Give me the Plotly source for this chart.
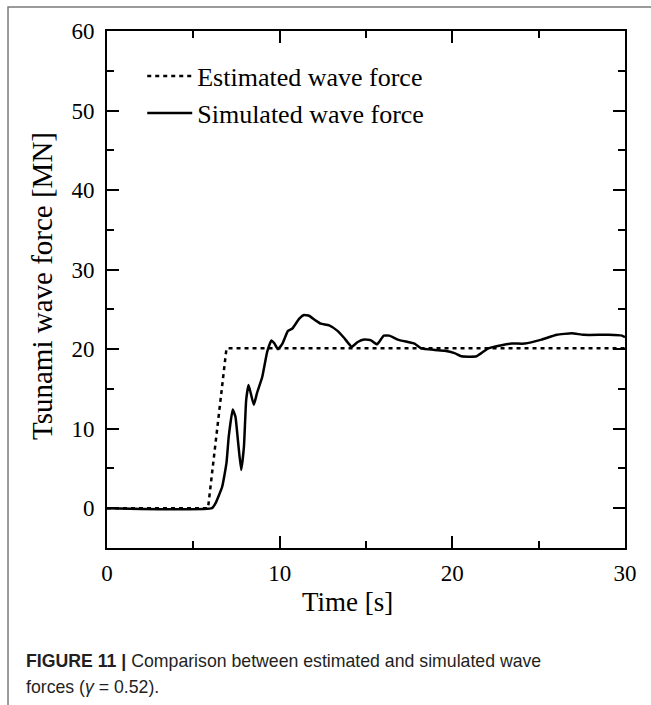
import plotly.graph_objects as go

# ---- data ----
est_t = [0, 5.85, 6.92, 30]
est_f = [0, 0, 20.1, 20.1]

sim_t = [0, 6.08, 6.28, 6.67, 6.92, 7.05, 7.28, 7.44, 7.58, 7.77, 7.93, 8.06, 8.2,
         8.5, 8.69, 8.99, 9.28, 9.52, 9.70, 9.90, 10.16, 10.48, 10.74, 11.12, 11.41,
         11.70, 12.09, 12.38, 12.87, 13.35, 13.74, 14.17, 14.52, 14.90, 15.29, 15.64,
         16.03, 16.35, 16.84, 17.42, 17.81, 18.20, 18.97, 19.55, 20.13, 20.52, 21.40,
         22.08, 22.85, 23.44, 24.2, 25.17, 26.05, 26.92, 27.60, 29.05, 29.83, 30.0]
sim_f = [0, 0, 0.6, 2.7, 5.7, 9.0, 12.4, 11.5, 8.6, 4.8, 7.7, 13.6, 15.5,
         13.0, 14.5, 16.5, 19.7, 21.1, 20.7, 20.0, 20.7, 22.3, 22.6, 23.8, 24.3,
         24.2, 23.6, 23.2, 23.0, 22.3, 21.4, 20.3, 20.9, 21.2, 21.1, 20.6,
         21.7, 21.7, 21.2, 20.9, 20.7, 20.1, 19.9, 19.8, 19.5, 19.1, 19.1,
         20.1, 20.5, 20.7, 20.7, 21.2, 21.8, 22.0, 21.8, 21.8, 21.7, 21.5]

x_ticks = [0, 10, 20, 30]
y_ticks = [0, 10, 20, 30, 40, 50, 60]

SERIF = "Liberation Serif, Times New Roman, serif"
SANS = "Liberation Sans, Arial, sans-serif"

fig = go.Figure()
fig.add_trace(go.Scatter(x=est_t, y=est_f, mode="lines", name="Estimated wave force",
                         line=dict(color="black", width=2.5, dash="4px,4px")))
fig.add_trace(go.Scatter(x=sim_t, y=sim_f, mode="lines", name="Simulated wave force",
                         line=dict(color="black", width=2.5, shape="spline", smoothing=0.4)))

axis_common = dict(showline=True, linecolor="black", linewidth=2, mirror="ticks",
                   ticks="inside", ticklen=12, tickwidth=2, tickcolor="black",
                   showgrid=False, zeroline=False,
                   tickfont=dict(family=SERIF, size=23, color="black"))

fig.update_xaxes(range=[0, 30], tickvals=x_ticks, ticklabelstandoff=3,
                 minor=dict(ticks="inside", ticklen=7, tickwidth=2, dtick=5,
                            tickcolor="black", showgrid=False),
                 **axis_common)
fig.update_yaxes(range=[-5, 60], tickvals=y_ticks, ticklabelstandoff=6,
                 minor=dict(ticks="inside", ticklen=7, tickwidth=2, dtick=5, tick0=5,
                            tickcolor="black", showgrid=False),
                 **axis_common)

fig.update_layout(
    width=651, height=705,
    margin=dict(l=107, r=26, t=31, b=157),
    paper_bgcolor="white", plot_bgcolor="white",
    showlegend=True,
    legend=dict(x=0.068, y=0.958, xanchor="left", yanchor="top",
                bgcolor="rgba(0,0,0,0)", borderwidth=0,
                font=dict(family=SERIF, size=26, color="black"),
                itemwidth=45, tracegroupgap=0),
    shapes=[
        dict(type="path", xref="paper", yref="paper",
             path="M -0.1911,-0.31 L -0.1911,1.0464 L 1.06,1.0464",
             line=dict(color="#7a7a7a", width=1.5)),
    ],
    annotations=[
        dict(text="Time [s]", xref="paper", yref="paper",
             x=(347 - 107) / 518, y=(548 - 602) / 517,
             xanchor="center", yanchor="middle", showarrow=False,
             font=dict(family=SERIF, size=27, color="black")),
        dict(text="Tsunami wave force [MN]", xref="paper", yref="paper",
             x=(42 - 107) / 518, y=(548 - 286) / 517, textangle=-90,
             xanchor="center", yanchor="middle", showarrow=False,
             font=dict(family=SERIF, size=29, color="black")),
        dict(text="<b>FIGURE 11 |</b> Comparison between estimated and simulated wave",
             xref="paper", yref="paper",
             x=(24 - 107) / 518, y=(548 - 661) / 517,
             xanchor="left", yanchor="middle", showarrow=False,
             font=dict(family=SANS, size=17.7, color="#231f20")),
        dict(text="forces (<i>γ</i> = 0.52).",
             xref="paper", yref="paper",
             x=(24 - 107) / 518, y=(548 - 687) / 517,
             xanchor="left", yanchor="middle", showarrow=False,
             font=dict(family=SANS, size=17.7, color="#231f20")),
    ],
)

fig.write_html("out.html")
